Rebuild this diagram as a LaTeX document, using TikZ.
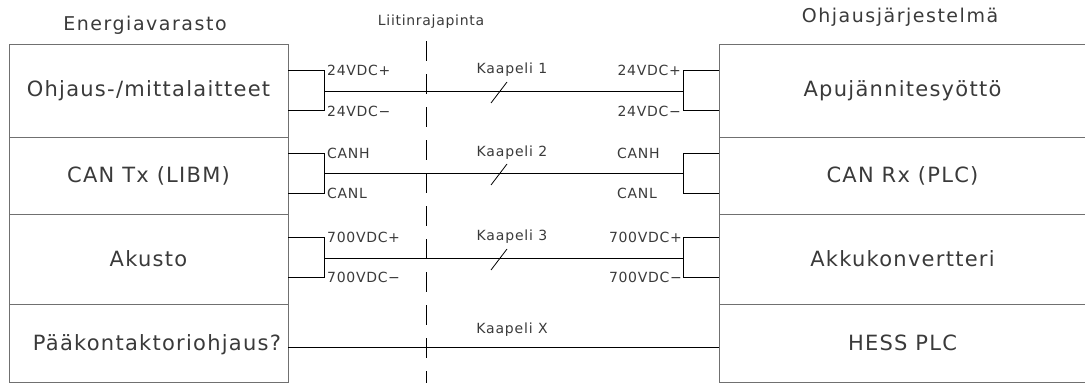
\documentclass[tikz,border=0pt]{standalone}
\usepackage{fontspec}
\setmainfont[LetterSpace=5]{DejaVu Sans}
\definecolor{boxc}{HTML}{707070}
\definecolor{txtc}{HTML}{3A3A3A}
\begin{document}
\begin{tikzpicture}[x=1pt,y=-1pt,
  bigfont/.style={font=\fontsize{21}{23}\selectfont\addfontfeature{LetterSpace=6}},
  lbox/.style={draw=boxc, line width=0.8pt, minimum width=279pt, inner sep=0pt, text=txtc, bigfont},
  rbox/.style={draw=boxc, line width=0.8pt, minimum width=367pt, inner sep=0pt, text=txtc, bigfont},
  boxtxt/.style={inner sep=0pt, text=txtc, bigfont},
  wire/.style={draw=black, line width=0.8pt},
  pin/.style={inner sep=0pt, text=txtc, font=\fontsize{14}{16}\selectfont},
  cable/.style={inner sep=0pt, text=txtc, font=\fontsize{14}{16}\selectfont\addfontfeature{LetterSpace=6}},
  head/.style={inner sep=0pt, text=txtc, font=\fontsize{19}{21}\selectfont\addfontfeature{LetterSpace=8}},
  small/.style={inner sep=0pt, text=txtc, font=\fontsize{14}{16}\selectfont},
  iface/.style={draw=black, line width=0.8pt, dash pattern=on 20pt off 13pt}
]
\useasboundingbox (0,0) rectangle (1085,383);
% headings
\node[head] (hE) at (145,25) {Energiavarasto};
\node[small] (hL) at (431,22) {Liitinrajapinta};
\node[head] (hO) at (900,17) {Ohjausjärjestelmä};
% left boxes
\node[lbox, minimum height=93pt] (L1) at (148.5,90.5) {Ohjaus-/mittalaitteet};
\node[lbox, minimum height=77pt] (L2) at (148.5,175.5) {CAN Tx (LIBM)};
\node[lbox, minimum height=90pt] (L3) at (148.5,259) {Akusto};
\node[lbox, minimum height=78pt] (L4) at (148.5,343) {};
\node[boxtxt] (L4t) at (157,345) {Pääkontaktoriohjaus?};
% right boxes
\node[rbox, minimum height=93pt] (R1) at (902.5,90.5) {Apujännitesyöttö};
\node[rbox, minimum height=77pt] (R2) at (902.5,175.5) {CAN Rx (PLC)};
\node[rbox, minimum height=90pt] (R3) at (902.5,259) {Akkukonvertteri};
\node[rbox, minimum height=78pt] (R4) at (902.5,343) {HESS PLC};
% interface line
\coordinate (it) at (426,41);
\coordinate (ib) at (426,384);
\draw[iface] (it) -- (ib);
% row 1
\coordinate (a1p) at (324,70); \coordinate (a1m) at (324,110); \coordinate (a1) at (324,91);
\coordinate (b1p) at (683,70); \coordinate (b1m) at (683,110); \coordinate (b1) at (683,91);
\draw[wire] (L1.east |- a1p) -- (a1p) -- (a1m) -- (L1.east |- a1m);
\draw[wire] (R1.west |- b1p) -- (b1p) -- (b1m) -- (R1.west |- b1m);
\draw[wire] (a1) -- (b1);
\coordinate (s1) at (499,92);
\draw[wire] ([shift={(-8,11)}]s1) -- ([shift={(8,-10)}]s1);
% row 2
\coordinate (a2p) at (324,153); \coordinate (a2m) at (324,193); \coordinate (a2) at (324,173);
\coordinate (b2p) at (683,153); \coordinate (b2m) at (683,193); \coordinate (b2) at (683,173);
\draw[wire] (L2.east |- a2p) -- (a2p) -- (a2m) -- (L2.east |- a2m);
\draw[wire] (R2.west |- b2p) -- (b2p) -- (b2m) -- (R2.west |- b2m);
\draw[wire] (a2) -- (b2);
\coordinate (s2) at (499,174);
\draw[wire] ([shift={(-8,11)}]s2) -- ([shift={(8,-10)}]s2);
% row 3
\coordinate (a3p) at (324,237); \coordinate (a3m) at (324,277); \coordinate (a3) at (324,258);
\coordinate (b3p) at (683,237); \coordinate (b3m) at (683,277); \coordinate (b3) at (683,258);
\draw[wire] (L3.east |- a3p) -- (a3p) -- (a3m) -- (L3.east |- a3m);
\draw[wire] (R3.west |- b3p) -- (b3p) -- (b3m) -- (R3.west |- b3m);
\draw[wire] (a3) -- (b3);
\coordinate (s3) at (499,259);
\draw[wire] ([shift={(-8,11)}]s3) -- ([shift={(8,-10)}]s3);
% row 4
\draw[wire] (L4.east |- 0,347) -- (R4.west |- 0,347);
% pin labels
\node[pin, anchor=west] (p1) at (327,70) {24VDC+};
\node[pin, anchor=west] (p2) at (327,111) {24VDC−};
\node[pin, anchor=west] (p3) at (327,153) {CANH};
\node[pin, anchor=west] (p4) at (327,193) {CANL};
\node[pin, anchor=west] (p5) at (327,237) {700VDC+};
\node[pin, anchor=west] (p6) at (327,277) {700VDC−};
\node[pin, anchor=east] (q1) at (681,70) {24VDC+};
\node[pin, anchor=east] (q2) at (681,111) {24VDC−};
\node[pin, anchor=west] (q3) at (617,153) {CANH};
\node[pin, anchor=west] (q4) at (617,193) {CANL};
\node[pin, anchor=east] (q5) at (682,237) {700VDC+};
\node[pin, anchor=east] (q6) at (682,277) {700VDC−};
% cable labels
\node[cable] (k1) at (512,70) {Kaapeli 1};
\node[cable] (k2) at (512,153) {Kaapeli 2};
\node[cable] (k3) at (512,237) {Kaapeli 3};
\node[cable] (kx) at (512,330) {Kaapeli X};
\end{tikzpicture}
\end{document}
